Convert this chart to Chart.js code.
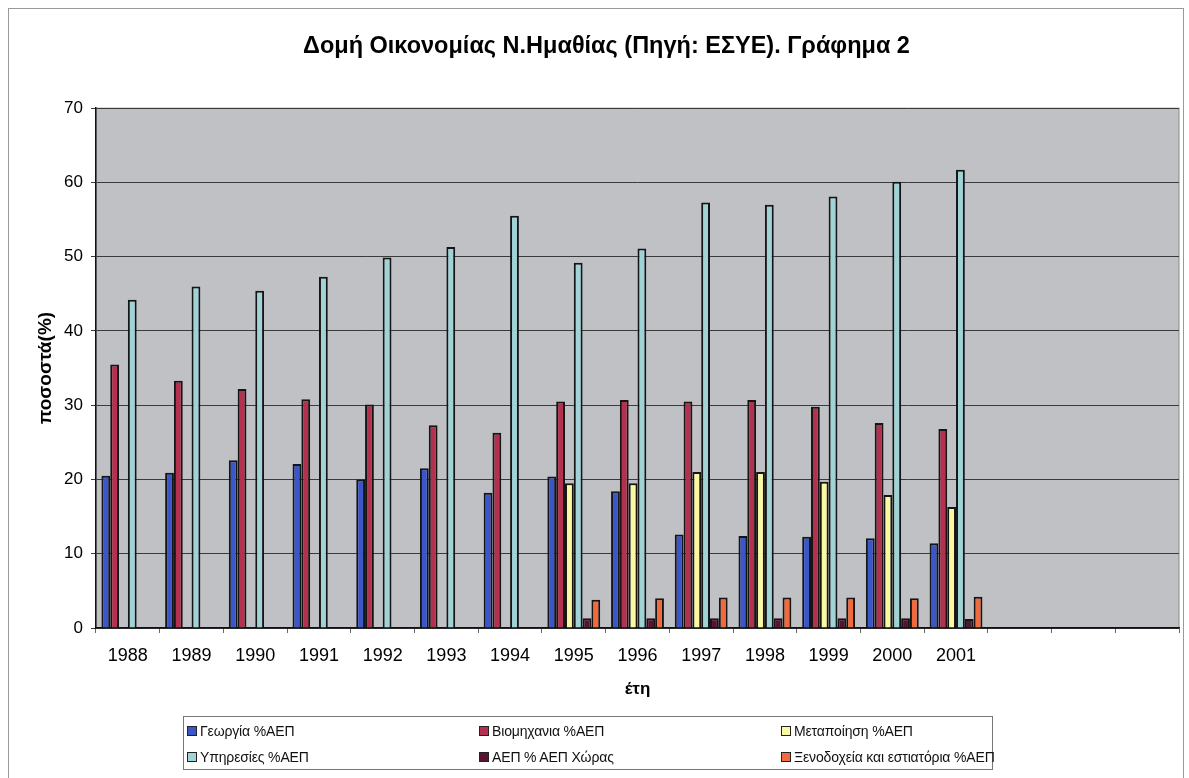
<!DOCTYPE html>
<html>
<head>
<meta charset="utf-8">
<script src="https://cdn.jsdelivr.net/npm/chart.js@4"></script>
<style>
  body { margin: 0; background: #fff; font-family: 'Liberation Sans', Arial, sans-serif; }
  #wrap { position: relative; width: 1189px; height: 778px; overflow: hidden; }
  #frame { position: absolute; left: 8px; top: 8px; width: 1174px; height: 800px; border: 1px solid #9a9a9a; }
  #legend {
    position: absolute; left: 183px; top: 716px; width: 810px; height: 54px;
    border: 1px solid #777; background: #fff;
    display: grid; grid-template-columns: 292px 302px auto; grid-auto-rows: 26px;
    padding-left: 3px; box-sizing: border-box; padding-top: 1px;
  }
  .item { display: flex; align-items: center; font-size: 14px; letter-spacing: -0.15px; color: #111; white-space: nowrap; }
  .box { width: 8px; height: 8px; border: 1px solid #222; margin-right: 3px; }
</style>
</head>
<body>
<div id="wrap">
  <div id="frame"></div>
  <canvas id="chart" width="1189" height="778"></canvas>
  <div id="legend"></div>
</div>
<script>
// Δομή Οικονομίας Ν.Ημαθίας — ποσοστά % ΑΕΠ ανά έτος

const years = ['1988', '1989', '1990', '1991', '1992', '1993', '1994',
               '1995', '1996', '1997', '1998', '1999', '2000', '2001'];
const blankSlots = ['', '', ''];

const agriculture   = [20.5, 20.9, 22.6, 22.1, 20.0, 21.5, 18.2, 20.4, 18.4, 12.6, 12.4, 12.3, 12.1, 11.4];
const industry      = [35.5, 33.3, 32.2, 30.8, 30.1, 27.3, 26.3, 30.5, 30.7, 30.5, 30.7, 29.8, 27.6, 26.8];
const manufacturing = [null, null, null, null, null, null, null, 19.5, 19.5, 21.0, 21.0, 19.7, 17.9, 16.3];
const services      = [44.2, 46.0, 45.4, 47.3, 49.9, 51.3, 55.5, 49.2, 51.1, 57.3, 57.0, 58.1, 60.1, 61.7];
const gdpShare      = [null, null, null, null, null, null, null, 1.3, 1.3, 1.3, 1.3, 1.3, 1.3, 1.2];
const hotels        = [null, null, null, null, null, null, null, 3.8, 4.0, 4.1, 4.1, 4.1, 4.0, 4.2];

const seriesNames = ['Γεωργία %ΑΕΠ', 'Βιομηχανια %ΑΕΠ', 'Μεταποίηση %ΑΕΠ',
                     'Υπηρεσίες %ΑΕΠ', 'ΑΕΠ % ΑΕΠ Χώρας', 'Ξενοδοχεία και εστιατόρια %ΑΕΠ'];
const seriesColors = ['#3b56c8', '#b3304e', '#fbf8a2', '#9fd3d6', '#5a1232', '#f06a3e'];
const seriesData = [agriculture, industry, manufacturing, services, gdpShare, hotels];

const FONT = "'Liberation Sans', Arial, sans-serif";

// gray plot background like the Excel original
const plotBackground = {
  id: 'plotBackground',
  beforeDraw(chart) {
    const { ctx, chartArea: a } = chart;
    ctx.save();
    ctx.fillStyle = '#bfc1c5';
    ctx.fillRect(a.left, a.top, a.right - a.left, a.bottom - a.top);
    ctx.strokeStyle = '#8a8a8a';
    ctx.lineWidth = 1;
    ctx.strokeRect(a.left, a.top, a.right - a.left, a.bottom - a.top);
    ctx.restore();
  }
};

const chart = new Chart(document.getElementById('chart'), {
  type: 'bar',
  data: {
    labels: years.concat(blankSlots),
    datasets: seriesData.map((d, i) => ({
      label: seriesNames[i],
      data: d,
      backgroundColor: seriesColors[i],
      borderColor: '#151515',
      borderWidth: 2,
      barPercentage: 1,
      categoryPercentage: 0.83,
    })),
  },
  options: {
    responsive: false,
    devicePixelRatio: 1,
    animation: false,
    layout: { padding: { left: 34, right: 10, top: 0, bottom: 70 } },
    plugins: {
      legend: { display: false },
      tooltip: { enabled: false },
      title: {
        display: true,
        text: 'Δομή Οικονομίας Ν.Ημαθίας (Πηγή: ΕΣΥΕ). Γράφημα 2',
        color: '#000',
        font: { family: FONT, size: 23.5, weight: 'bold' },
        padding: { top: 32, bottom: 48 },
      },
    },
    scales: {
      x: {
        grid: { display: true, drawOnChartArea: false, offset: true, tickLength: 5, color: '#666' },
        border: { color: '#111', width: 1.5 },
        ticks: { color: '#000', font: { family: FONT, size: 18 }, padding: 12, maxRotation: 0, autoSkip: false },
        title: { display: true, text: 'έτη', color: '#000', font: { family: FONT, size: 17, weight: 'bold' }, padding: { top: 0, bottom: 8 } },
        afterFit(s) { s.height = 80; },
      },
      y: {
        min: 0,
        max: 70,
        ticks: { stepSize: 10, color: '#000', font: { family: FONT, size: 17 }, padding: 8 },
        grid: { color: '#3a3a3a', lineWidth: 1, tickLength: 5 },
        border: { color: '#111', width: 1.5 },
        title: { display: true, text: 'ποσοστά(%)', color: '#000', font: { family: FONT, size: 19, weight: 'bold' }, padding: { top: 0, bottom: 0 } },
        afterFit(s) { s.width = 62; },
      },
    },
  },
  plugins: [plotBackground],
});

// legend laid out in three columns, built from the datasets
const legendEl = document.getElementById('legend');
chart.data.datasets.forEach(ds => {
  const item = document.createElement('div');
  item.className = 'item';
  const box = document.createElement('span');
  box.className = 'box';
  box.style.background = ds.backgroundColor;
  item.appendChild(box);
  item.appendChild(document.createTextNode(ds.label));
  legendEl.appendChild(item);
});
</script>
</body>
</html>
